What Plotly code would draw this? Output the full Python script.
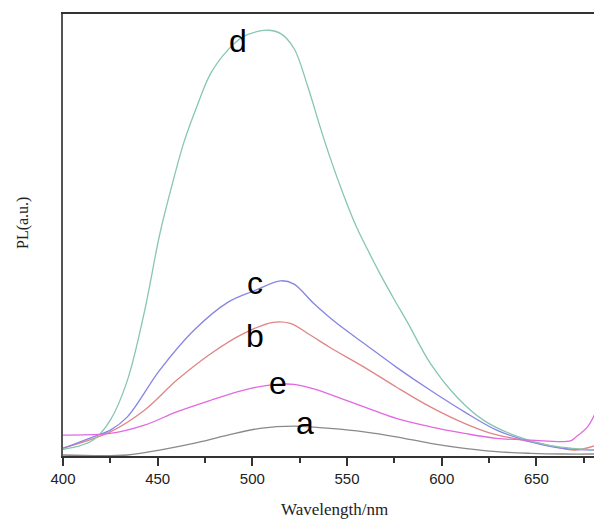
import plotly.graph_objects as go

# Wavelength (nm) and PL intensity (a.u.)
a_x = [400, 434, 451, 469, 487, 504, 522, 541, 559, 576, 594, 612, 629, 647, 664, 682]
a_y = [1, 1, 6, 12.7, 21, 27.7, 30, 27.7, 24.3, 19.3, 12.7, 7.7, 4.3, 2.7, 2, 2]

b_x = [400, 425, 443, 460, 478, 495, 511, 520, 531, 541, 559, 576, 594, 612, 626, 638, 656, 670, 682]
b_y = [8, 24.3, 46, 76, 102.7, 122.7, 134.3, 133.3, 121, 109, 89.3, 69.3, 49.3, 32.7, 22.7, 17.7, 11, 6, 11]

c_x = [400, 416, 425, 434, 451, 469, 487, 501, 515, 522, 532, 541, 550, 559, 576, 594, 612, 629, 647, 664, 682]
c_y = [7.7, 19.3, 26, 39.3, 86, 126, 154.3, 166, 176, 172.7, 154, 139, 125.5, 113, 89.3, 66, 44.3, 26, 14.3, 7.7, 6]

d_x = [400, 407, 416, 425, 434, 443, 451, 457, 464, 471, 478, 487, 495, 504, 509, 515, 522, 529, 536,
       541, 548, 555, 562, 568, 575, 582, 594, 608, 622, 638, 656, 682]
d_y = [6.7, 9.3, 16, 36, 76, 145, 222, 268, 316, 352.7, 384.3, 407.7, 421, 427, 427.7, 424.3, 409.3,
       372.7, 329.3, 300, 263, 230, 203, 181, 157, 134, 93, 59.3, 36, 21, 11, 6]

e_x = [400, 425, 443, 460, 478, 495, 508, 522, 532, 541, 559, 576, 594, 612, 629, 647, 668, 671, 677, 681]
e_y = [21, 22.7, 31, 44.3, 56, 66, 71, 72, 67.7, 62, 49.3, 37.7, 29.3, 22.7, 17.7, 16, 15.3, 19.3, 29.3, 42.7]

labels = ["a", "b", "c", "d", "e"]
label_x = [528, 501.5, 501.5, 492.6, 513.7]
label_y = [33, 121, 174, 417, 73]

series = [
    ("a", a_x, a_y, "#8a8a8a"),
    ("b", b_x, b_y, "#e08585"),
    ("c", c_x, c_y, "#8585e6"),
    ("d", d_x, d_y, "#86c6b2"),
    ("e", e_x, e_y, "#e268e2"),
]

fig = go.Figure()
for name, xs, ys, col in series:
    fig.add_trace(go.Scatter(x=xs, y=ys, mode="lines", name=name,
                             line=dict(color=col, width=1.3, shape="spline", smoothing=1.0)))

for t, lx, ly in zip(labels, label_x, label_y):
    fig.add_annotation(x=lx, y=ly, xref="x", yref="y", text=t, showarrow=False,
                       font=dict(family="Liberation Sans, Arial", size=32, color="black"))

fig.add_annotation(x=-0.075, y=0.527, xref="paper", yref="paper", text="PL(a.u.)", textangle=-90,
                   showarrow=False, xanchor="center", yanchor="middle",
                   font=dict(family="Liberation Serif, Times New Roman", size=16, color="#222"))
fig.add_annotation(x=0.509, y=-0.1216, xref="paper", yref="paper", text="Wavelength/nm",
                   showarrow=False, xanchor="center", yanchor="middle",
                   font=dict(family="Liberation Serif, Times New Roman", size=17, color="#222"))

fig.update_layout(
    width=594, height=513,
    margin=dict(l=55, r=5, t=4, b=65),
    paper_bgcolor="white", plot_bgcolor="white",
    showlegend=False,
    xaxis=dict(range=[400, 682], tick0=400, dtick=50, ticks="outside", ticklen=8, tickwidth=2,
               tickcolor="#333", showline=True, linecolor="#333", linewidth=2, mirror=True,
               showgrid=False, zeroline=False,
               tickfont=dict(family="Liberation Sans, Arial", size=15, color="#222"),
               minor=dict(dtick=25, tick0=400, ticks="outside", ticklen=5, tickwidth=1.5, tickcolor="#333")),
    yaxis=dict(range=[0, 444], showticklabels=False, ticks="", showline=True, linecolor="#555",
               linewidth=2, showgrid=False, zeroline=False),
)

fig.write_html("out.html")
